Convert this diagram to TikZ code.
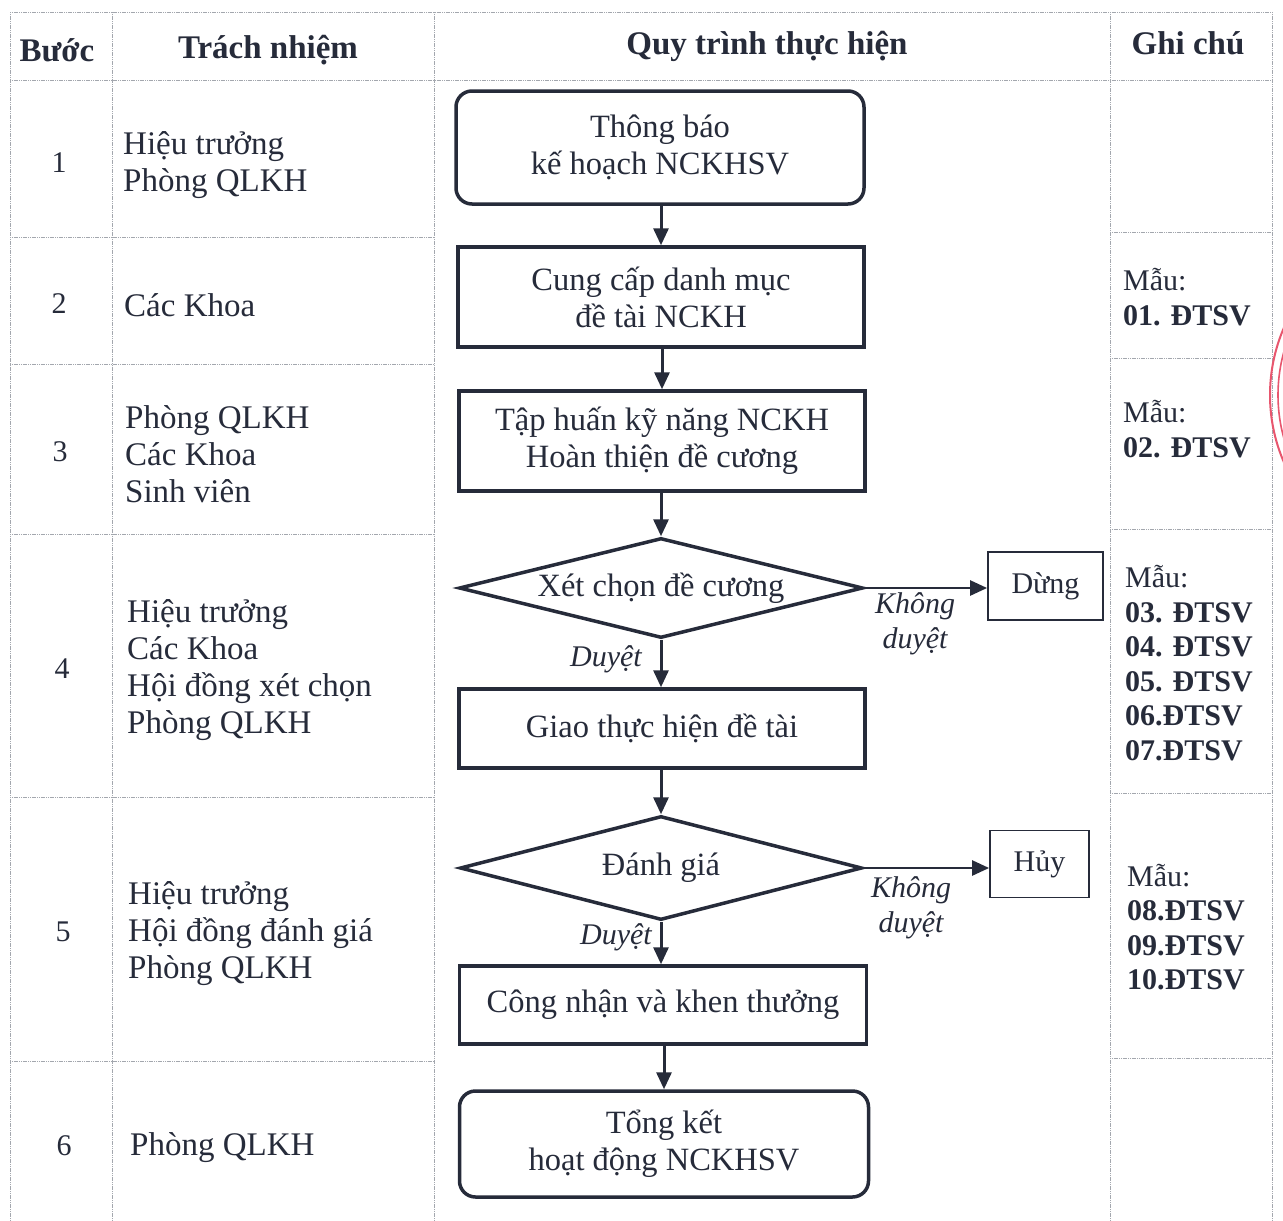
\documentclass[tikz,border=0pt]{standalone}
\usepackage{fontspec}
\setmainfont{Liberation Serif}
\usetikzlibrary{shapes.geometric,arrows.meta}
\definecolor{ink}{HTML}{262B3A}
\definecolor{gridc}{HTML}{A3A7AE}
\definecolor{stampc}{HTML}{E8566E}
\begin{document}
\begin{tikzpicture}[x=1pt,y=-1pt,
  tline/.style={draw=gridc,line width=0.9pt,dash pattern=on 1.2pt off 0.6pt},
  txt/.style={text=ink,font=\fontsize{30}{37}\selectfont,inner sep=0pt},
  hdr/.style={text=ink,font=\fontsize{33}{37}\selectfont\bfseries,inner sep=0pt},
  resp/.style={text=ink,inner sep=0pt,anchor=west,align=left,font=\fontsize{33}{37}\selectfont},
  note/.style={text=ink,inner sep=0pt,anchor=west,align=left,font=\fontsize{30}{34.5}\selectfont},
  lab/.style={text=ink,inner sep=0pt,font=\fontsize{30}{35}\selectfont\itshape,align=center},
  proc/.style={draw=ink,line width=3.5pt,text=ink,font=\fontsize{32.5}{37}\selectfont,align=center,inner sep=0pt,minimum width=406pt},
  term/.style={proc,rounded corners=16pt},
  decision/.style={diamond,aspect=4,draw=ink,line width=3.5pt,text=ink,font=\fontsize{32.5}{37}\selectfont,inner sep=0pt},
  stopbox/.style={draw=ink,line width=1.8pt,text=ink,font=\fontsize{30}{37}\selectfont,inner sep=0pt},
  flow/.style={draw=ink,line width=3pt,-{Triangle[length=17pt,width=15pt]}}
]
\useasboundingbox (0,0) rectangle (1283,1221);
\fill[white] (0,0) rectangle (1283,1221);

% ---- table grid ----
\draw[tline] (10,12) -- (1272,12);
\draw[tline] (10,80) -- (1272,80);
\foreach \x in {10,112,434,1110,1272} \draw[tline] (\x,12) -- (\x,1221);
\foreach \y in {237,364,534,797,1061} \draw[tline] (10,\y) -- (434,\y);
\foreach \y in {232,358,529,793,1058} \draw[tline] (1110,\y) -- (1272,\y);

% ---- header ----
\node[hdr] (hStep) at (57,50) {Bước};
\node[hdr] (hResp) at (268,50) {Trách nhiệm};
\node[hdr] (hProc) at (767,46) {Quy trình thực hiện};
\node[hdr] (hNote) at (1188,43) {Ghi chú};

% ---- step numbers ----
\node[txt] (n1) at (59,163) {1};
\node[txt] (n2) at (59,304) {2};
\node[txt] (n3) at (60,452) {3};
\node[txt] (n4) at (62,669) {4};
\node[txt] (n5) at (63,932) {5};
\node[txt] (n6) at (64,1146) {6};

% ---- responsibilities ----
\node[resp] (r1) at (123,165) {Hiệu trưởng\\Phòng QLKH};
\node[resp] (r2) at (124,305) {Các Khoa};
\node[resp] (r3) at (125,454) {Phòng QLKH\\Các Khoa\\Sinh viên};
\node[resp] (r4) at (127,670) {Hiệu trưởng\\Các Khoa\\Hội đồng xét chọn\\Phòng QLKH};
\node[resp] (r5) at (128,934) {Hiệu trưởng\\Hội đồng đánh giá\\Phòng QLKH};
\node[resp] (r6) at (130,1148) {Phòng QLKH};

% ---- notes ----
\node[note] (g2) at (1123,297) {Mẫu:\\\textbf{01. ĐTSV}};
\node[note] (g3) at (1123,429) {Mẫu:\\\textbf{02. ĐTSV}};
\node[note] (g4) at (1125,663) {Mẫu:\\\textbf{03. ĐTSV}\\\textbf{04. ĐTSV}\\\textbf{05. ĐTSV}\\\textbf{06.ĐTSV}\\\textbf{07.ĐTSV}};
\node[note] (g5) at (1127,927) {Mẫu:\\\textbf{08.ĐTSV}\\\textbf{09.ĐTSV}\\\textbf{10.ĐTSV}};

% ---- flowchart ----
\node[term,minimum width=408pt,minimum height=113pt] (b1) at (660,147.5) {Thông báo\\kế hoạch NCKHSV};
\node[proc,minimum height=100pt] (b2) at (661,297) {Cung cấp danh mục\\đề tài NCKH};
\node[proc,minimum height=100pt] (b3) at (662,441) {Tập huấn kỹ năng NCKH\\Hoàn thiện đề cương};
\node[decision,minimum width=404pt,minimum height=100pt] (d1) at (661,588) {Xét chọn đề cương};
\node[proc,minimum height=79pt] (b4) at (662,728.5) {Giao thực hiện đề tài};
\node[decision,minimum width=402pt,minimum height=104pt] (d2) at (661,868) {Đánh giá};
\node[proc,minimum width=407pt,minimum height=78pt] (b5) at (663,1005) {Công nhận và khen thưởng};
\node[term,minimum width=409pt,minimum height=106pt] (b6) at (664,1144) {Tổng kết\\hoạt động NCKHSV};

\node[stopbox,minimum width=115pt,minimum height=68pt] (stop) at (1045.5,586) {Dừng};
\node[stopbox,minimum width=99pt,minimum height=67pt] (cancel) at (1039.5,864) {Hủy};

\draw[flow] (b1.south -| b2.north) -- (b2.north);
\draw[flow] (b2.south -| b3.north) -- (b3.north);
\draw[flow] (b3.south -| d1.north) -- (d1.north);
\draw[flow] (d1.south) -- (d1.south |- b4.north);
\draw[flow] (b4.south -| d2.north) -- (d2.north);
\draw[flow] (d2.south) -- (d2.south |- b5.north);
\draw[flow] (b5.south -| b6.north) -- (b6.north);
\draw[flow,line width=2.6pt] (d1.east) -- (d1.east -| stop.west);
\draw[flow,line width=2.6pt] (d2.east) -- (d2.east -| cancel.west);

\node[lab] (l1) at (915,624) {Không\\duyệt};
\node[lab] (l2) at (606,659) {Duyệt};
\node[lab] (l3) at (911,908) {Không\\duyệt};
\node[lab] (l4) at (616,937) {Duyệt};

% ---- stamp edge ----
\begin{scope}
\clip (0,0) rectangle (1283,1221);
\draw[stampc,line width=2pt] (1439,395) circle[radius=169];
\draw[stampc,line width=1.6pt] (1439,395) circle[radius=161];
\end{scope}
\end{tikzpicture}
\end{document}
